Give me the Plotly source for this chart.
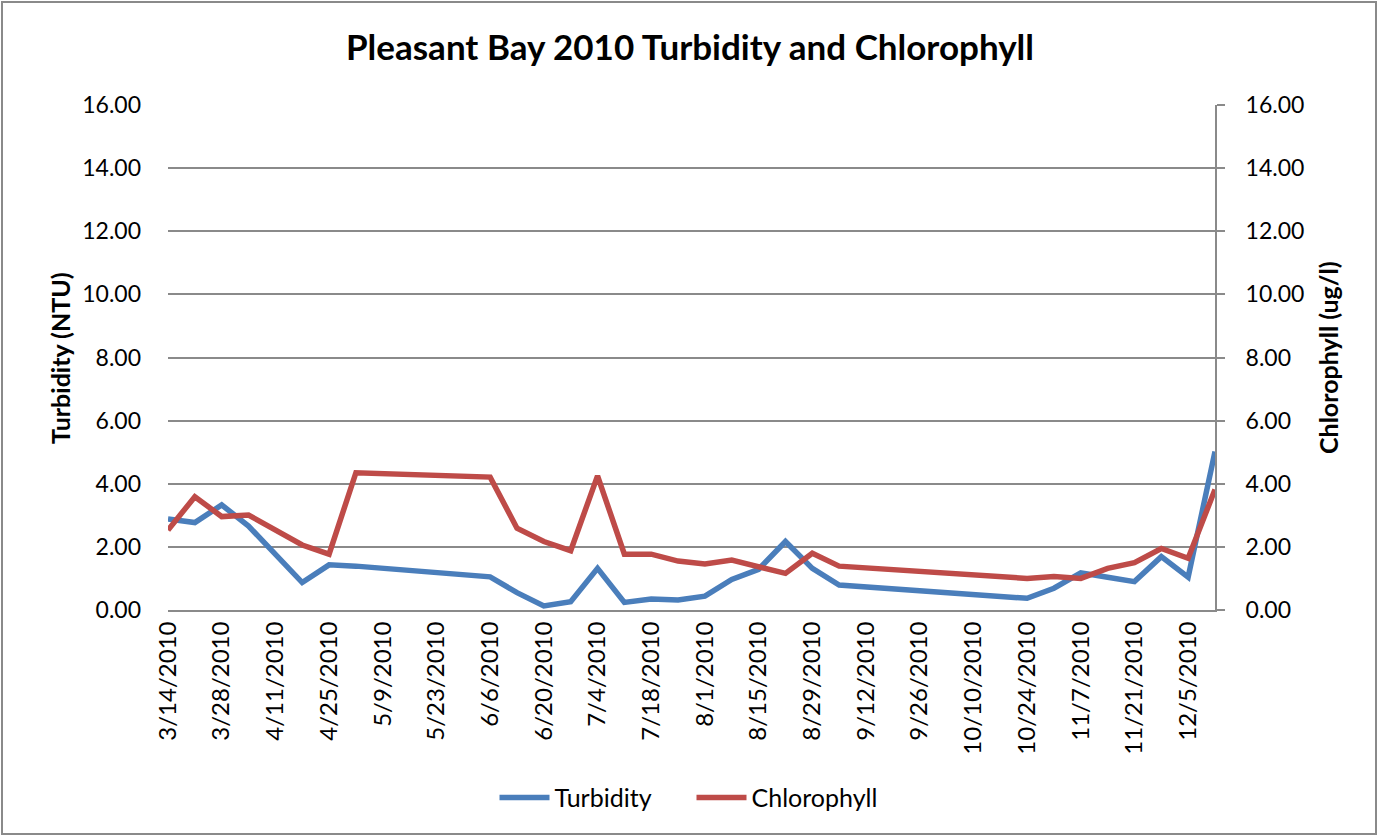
import plotly.graph_objects as go

dates = ["2010-03-14", "2010-03-21", "2010-03-28", "2010-04-04", "2010-04-18", "2010-04-25",
         "2010-05-02", "2010-06-06", "2010-06-13", "2010-06-20", "2010-06-27", "2010-07-04",
         "2010-07-11", "2010-07-18", "2010-07-25", "2010-08-01", "2010-08-08", "2010-08-15",
         "2010-08-22", "2010-08-29", "2010-09-05", "2010-10-24", "2010-10-31", "2010-11-07",
         "2010-11-14", "2010-11-21", "2010-11-28", "2010-12-05", "2010-12-12"]

turbidity = [2.88, 2.77, 3.33, 2.66, 0.87, 1.43,
             1.39, 1.05, 0.55, 0.13, 0.26, 1.32,
             0.24, 0.35, 0.32, 0.44, 0.97, 1.29,
             2.17, 1.32, 0.79, 0.37, 0.69, 1.18,
             1.04, 0.90, 1.69, 1.04, 5.02]

chlorophyll = [2.53, 3.59, 2.96, 3.01, 2.06, 1.77,
               4.35, 4.21, 2.59, 2.17, 1.88, 4.25,
               1.77, 1.77, 1.55, 1.46, 1.58, 1.37,
               1.16, 1.80, 1.39, 1.00, 1.06, 1.00,
               1.32, 1.50, 1.95, 1.64, 3.82]

tick_dates = ["2010-03-14", "2010-03-28", "2010-04-11", "2010-04-25", "2010-05-09", "2010-05-23",
              "2010-06-06", "2010-06-20", "2010-07-04", "2010-07-18", "2010-08-01", "2010-08-15",
              "2010-08-29", "2010-09-12", "2010-09-26", "2010-10-10", "2010-10-24", "2010-11-07",
              "2010-11-21", "2010-12-05"]
tick_labels = ["3/14/2010", "3/28/2010", "4/11/2010", "4/25/2010", "5/9/2010", "5/23/2010",
               "6/6/2010", "6/20/2010", "7/4/2010", "7/18/2010", "8/1/2010", "8/15/2010",
               "8/29/2010", "9/12/2010", "9/26/2010", "10/10/2010", "10/24/2010", "11/7/2010",
               "11/21/2010", "12/5/2010"]

y_ticks = [0, 2, 4, 6, 8, 10, 12, 14, 16]

FONT = "Lato"
GRID = "#8a8a8a"

fig = go.Figure()
fig.add_trace(go.Scatter(x=dates, y=turbidity, name="Turbidity", mode="lines",
                         line=dict(color="#4A7EBB", width=5.5)))
fig.add_trace(go.Scatter(x=dates, y=chlorophyll, name="Chlorophyll", mode="lines",
                         line=dict(color="#BE4B48", width=5.5), yaxis="y2"))

fig.update_layout(
    width=1379, height=836,
    margin=dict(l=168, r=164, t=105, b=226),
    paper_bgcolor="white", plot_bgcolor="white",
    font=dict(family=FONT, color="black", size=23),
    showlegend=True,
    legend=dict(orientation="h", x=0.5, xanchor="center", y=-0.372, yanchor="middle",
                font=dict(size=25, family=FONT), itemwidth=50, tracegroupgap=0,
                entrywidth=132),
    title=dict(text="<b>Pleasant Bay 2010 Turbidity and Chlorophyll</b>",
               x=690 / 1379, xanchor="center", y=1 - 48 / 836, yanchor="middle",
               font=dict(size=35, family=FONT)),
    xaxis=dict(type="date", range=["2010-03-14", "2010-12-12"],
               tickvals=tick_dates, ticktext=tick_labels, tickangle=-90,
               showgrid=False, showline=True, linecolor=GRID, linewidth=2,
               ticks="", tickfont=dict(size=24), zeroline=False),
    yaxis=dict(range=[0, 16], tickvals=y_ticks, tickformat=".2f",
               showgrid=True, gridcolor=GRID, gridwidth=2, zeroline=False,
               showline=False, ticks="", ticklabelstandoff=26, tickfont=dict(size=23)),
    yaxis2=dict(range=[0, 16], tickvals=y_ticks, tickformat=".2f", overlaying="y",
                side="right", showgrid=False, zeroline=False, showline=True,
                linecolor=GRID, linewidth=2, ticks="outside", ticklen=8, tickcolor=GRID,
                tickwidth=2, ticklabelstandoff=16, tickfont=dict(size=23)),
    annotations=[
        dict(text="<b>Turbidity (NTU)</b>", xref="paper", yref="paper",
             x=(60 - 168) / 1047, y=(610 - 358) / 505, textangle=-90, showarrow=False,
             xanchor="center", yanchor="middle", font=dict(size=25, family=FONT)),
        dict(text="<b>Chlorophyll (ug/l)</b>", xref="paper", yref="paper",
             x=(1328 - 168) / 1047, y=(610 - 358) / 505, textangle=-90, showarrow=False,
             xanchor="center", yanchor="middle", font=dict(size=25, family=FONT)),
    ],
    shapes=[
        dict(type="rect", xref="paper", yref="paper",
             x0=(2 - 168) / 1047, x1=(1376 - 168) / 1047,
             y0=(610 - 834) / 505, y1=(610 - 2) / 505,
             line=dict(color="#8a8a8a", width=2), fillcolor="rgba(0,0,0,0)", layer="below"),
    ],
)

fig.write_html("out.html", config={"displayModeBar": False},
               post_script="document.body.style.margin='0';document.body.style.overflow='hidden';")
